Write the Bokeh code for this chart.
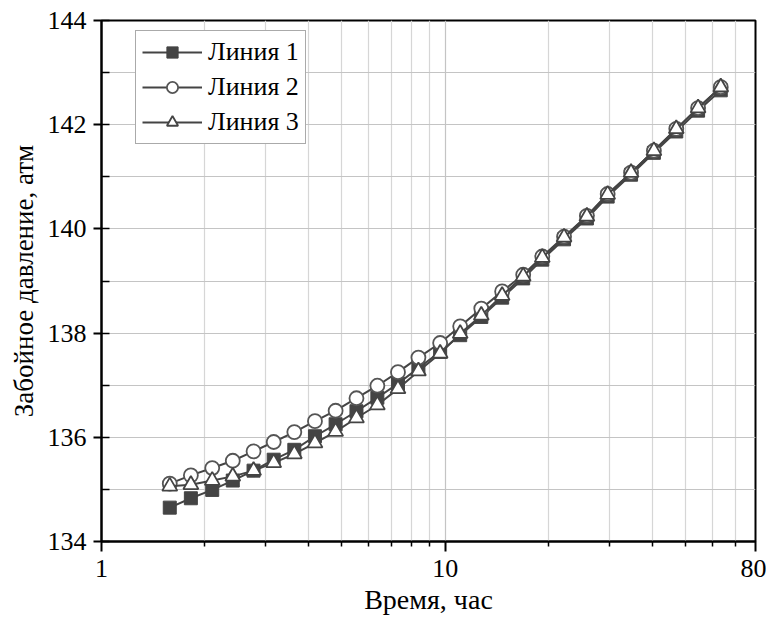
from bokeh.plotting import figure
from bokeh.models import (FixedTicker, SingleIntervalTicker, Legend, LegendItem, Range1d)
from bokeh.embed import file_html
from bokeh.resources import INLINE

time_h = [1.58, 1.82, 2.10, 2.41, 2.77, 3.17, 3.64, 4.18, 4.80, 5.52, 6.35, 7.29, 8.36, 9.67,
          11.06, 12.74, 14.65, 16.87, 19.17, 22.18, 25.85, 29.71, 34.75, 40.50, 47.05, 54.45, 63.39]
line1 = [134.65, 134.83, 134.99, 135.17, 135.36, 135.57, 135.76, 136.02, 136.25, 136.50, 136.76,
         137.03, 137.33, 137.64, 137.96, 138.31, 138.68, 139.05, 139.41, 139.80, 140.20, 140.62,
         141.04, 141.46, 141.87, 142.27, 142.66]
line2 = [135.11, 135.27, 135.41, 135.55, 135.73, 135.91, 136.10, 136.31, 136.51, 136.75, 136.99,
         137.25, 137.53, 137.81, 138.13, 138.47, 138.80, 139.12, 139.47, 139.85, 140.25, 140.67,
         141.08, 141.50, 141.92, 142.32, 142.72]
line3 = [135.06, 135.09, 135.17, 135.25, 135.36, 135.51, 135.68, 135.89, 136.11, 136.37, 136.62,
         136.93, 137.27, 137.61, 137.99, 138.34, 138.72, 139.09, 139.45, 139.84, 140.24, 140.66,
         141.08, 141.50, 141.92, 142.32, 142.72]
series_names = ["Линия 1", "Линия 2", "Линия 3"]
x_ticks = [1, 10, 80]
x_minor = [2, 3, 4, 5, 6, 7, 8, 9, 20, 30, 40, 50, 60, 70]

FONT = "Liberation Serif"
DARK = "#444444"

p = figure(width=766, height=621, x_axis_type="log", output_backend="svg", toolbar_location=None,
           x_range=Range1d(1, 80), y_range=Range1d(134, 144))
p.min_border_left = 101
p.min_border_right = 11
p.min_border_top = 20
p.min_border_bottom = 80
p.background_fill_color = "white"
p.border_fill_color = "white"
p.outline_line_color = "black"
p.outline_line_width = 2

p.xaxis.ticker = FixedTicker(ticks=x_ticks, minor_ticks=x_minor)
p.yaxis.ticker = SingleIntervalTicker(interval=2, num_minor_ticks=2)
p.xaxis.major_label_overrides = {1: "1", 10: "10", 80: "80"}

for ax in (p.xaxis, p.yaxis):
    ax.axis_line_color = "black"
    ax.axis_line_width = 2
    ax.major_tick_line_color = "black"
    ax.major_tick_line_width = 2
    ax.minor_tick_line_color = "black"
    ax.minor_tick_line_width = 1.5
    ax.major_label_text_font = FONT
    ax.major_label_text_font_size = "26px"
    ax.major_label_text_color = "black"
    ax.axis_label_text_font = FONT
    ax.axis_label_text_font_style = "normal"
    ax.axis_label_text_color = "black"

p.xaxis.axis_label_text_font_size = "28px"
p.yaxis.axis_label_text_font_size = "27px"
p.xaxis.major_tick_out = 10
p.xaxis.major_tick_in = 0
p.xaxis.minor_tick_out = 5
p.xaxis.minor_tick_in = 0
p.yaxis.major_tick_out = 8
p.yaxis.major_tick_in = 0
p.yaxis.minor_tick_out = 0
p.yaxis.minor_tick_in = 8
p.xaxis.major_label_standoff = 8
p.yaxis.major_label_standoff = 7
p.xaxis.axis_label = "Время, час"
p.yaxis.axis_label = "Забойное давление, атм"
p.xaxis.axis_label_standoff = 4
p.yaxis.axis_label_standoff = 6

p.xgrid.grid_line_color = "#c4c4c4"
p.ygrid.grid_line_color = "#c4c4c4"
p.xgrid.minor_grid_line_color = "#d6d6d6"
p.ygrid.minor_grid_line_color = "#c4c4c4"
p.xgrid.grid_line_width = 1.2
p.ygrid.grid_line_width = 1.2
p.xgrid.minor_grid_line_width = 1.2
p.ygrid.minor_grid_line_width = 1.2

items = []
l1 = p.line(time_h, line1, line_color=DARK, line_width=2)
m1 = p.scatter(time_h, line1, marker="square", size=13, fill_color=DARK, line_color=DARK, line_width=1)
items.append(LegendItem(label=series_names[0], renderers=[l1, m1]))
l2 = p.line(time_h, line2, line_color=DARK, line_width=2)
m2 = p.scatter(time_h, line2, marker="circle", size=14, fill_color="white", line_color="#555555", line_width=1.8)
items.append(LegendItem(label=series_names[1], renderers=[l2, m2]))
l3 = p.line(time_h, line3, line_color=DARK, line_width=2)
m3 = p.scatter(time_h, line3, marker="triangle", size=15, fill_color="white", line_color=DARK, line_width=1.8)
items.append(LegendItem(label=series_names[2], renderers=[l3, m3]))

legend = Legend(items=items, location=(34, 397))
legend.label_text_font = FONT
legend.label_text_font_size = "26px"
legend.label_text_color = "black"
legend.glyph_width = 60
legend.glyph_height = 28
legend.label_height = 28
legend.spacing = 5
legend.padding = 6
legend.label_standoff = 6
legend.border_line_color = "#555555"
legend.border_line_width = 1.5
legend.background_fill_color = "white"
legend.background_fill_alpha = 1
p.add_layout(legend, "center")

open("out.html", "w").write(file_html(p, INLINE))
